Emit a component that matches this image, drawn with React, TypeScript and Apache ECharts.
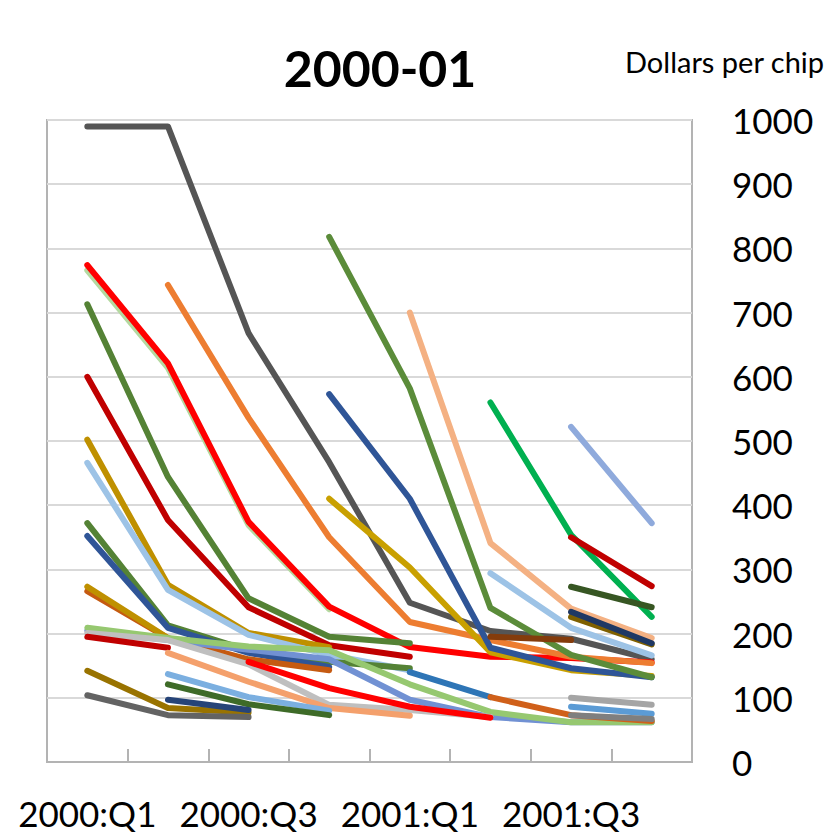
import React, { useEffect, useRef } from "react";
import * as echarts from "echarts";

const categories = ["2000:Q1", "2000:Q2", "2000:Q3", "2000:Q4", "2001:Q1", "2001:Q2", "2001:Q3", "2001:Q4"];
const yTicks = [0, 100, 200, 300, 400, 500, 600, 700, 800, 900, 1000];

const _ = null;
// vintages introduced in 2000:Q1
const v01 = [990, 990, 668, 467, 248, 204, 192, 160];
const v02 = [766, 614, 369, 238, _, _, _, _];
const v03 = [774, 621, 374, 242, 179, 164, 162, 155];
const v04 = [713, 444, 255, 195, 185, _, _, _];
const v05 = [600, 377, 241, 182, 164, _, _, _];
const v06 = [502, 276, 201, 179, _, _, _, _];
const v07 = [466, 268, 198, 167, 143, _, _, _];
const v08 = [372, 213, 174, 156, 146, _, _, _];
const v09 = [352, 209, 170, 148, _, _, _, _];
const v10 = [266, 193, 160, 143, _, _, _, _];
const v11 = [273, 193, _, _, _, _, _, _];
const v12 = [205, 190, 175, 160, 97, 70, 62, 62];
const v13 = [209, 193, 180, 174, 121, 78, 62, 62];
const v14 = [201, 190, 152, 89, 81, 70, _, _];
const v15 = [195, 178, _, _, _, _, _, _];
const v16 = [142, 84, 77, _, _, _, _, _];
const v17 = [104, 73, 70, _, _, _, _, _];
// introduced in 2000:Q2
const v18 = [_, 743, 536, 350, 218, 190, 164, 154];
const v19 = [_, 170, 125, 84, 72, _, _, _];
const v20 = [_, 137, 101, 80, _, _, _, _];
const v21 = [_, 121, 90, 73, _, _, _, _];
const v22 = [_, 97, 81, _, _, _, _, _];
// introduced in 2000:Q3
const v23 = [_, _, 156, 115, 86, 69, _, _];
// introduced in 2000:Q4
const v24 = [_, _, _, 410, 303, 171, 143, 134];
const v25 = [_, _, _, 573, 410, 178, 146, 132];
const v26 = [_, _, _, 818, 582, 240, 167, 132];
// introduced in 2001:Q1
const v27 = [_, _, _, _, 700, 341, 239, 193];
const v28 = [_, _, _, _, 140, 101, _, _];
// introduced in 2001:Q2
const v29 = [_, _, _, _, _, 560, 354, 226];
const v30 = [_, _, _, _, _, 294, 209, 166];
const v31 = [_, _, _, _, _, 101, 73, 64];
const v32 = [_, _, _, _, _, 195, 190, _];
// introduced in 2001:Q3
const v33 = [_, _, _, _, _, _, 522, 372];
const v34 = [_, _, _, _, _, _, 350, 274];
const v35 = [_, _, _, _, _, _, 273, 241];
const v36 = [_, _, _, _, _, _, 226, 183];
const v37 = [_, _, _, _, _, _, 234, 185];
const v38 = [_, _, _, _, _, _, 100, 89];
const v39 = [_, _, _, _, _, _, 86, 75];
const v40 = [_, _, _, _, _, _, 73, 67];

const seriesData = [
  v01, v02, v03, v04, v05, v06, v07, v08, v09, v10,
  v11, v12, v13, v14, v15, v16, v17, v18, v19, v20,
  v21, v22, v23, v24, v25, v26, v27, v28, v29, v30,
  v31, v32, v33, v34, v35, v36, v37, v38, v39, v40,
];

const seriesColors = [
  "#555555", "#B4D9A0", "#FF0000", "#548235", "#C00000", "#BF9000", "#9DC3E6", "#548235", "#2F5597", "#C55A11",
  "#BF9000", "#7191D3", "#96C870", "#BFBFBF", "#C00000", "#997300", "#636363", "#ED7D31", "#F4A06C", "#7BAFE0",
  "#3E6B28", "#264478", "#FF0000", "#C9A000", "#2F5597", "#5B8C3A", "#F4B183", "#2E75B6", "#00B050", "#9DC3E6",
  "#D0601A", "#843C0C", "#8FAADC", "#C00000", "#375623", "#7F6000", "#1F3864", "#A5A5A5", "#5B9BD5", "#7F7F7F",
];

const FONT = "Lato, 'Open Sans', sans-serif";

export default function App() {
  const ref = useRef<HTMLDivElement>(null);
  useEffect(() => {
    document.body.style.margin = "0";
    if (!ref.current) return;
    const chart = echarts.init(ref.current, null, { renderer: "svg" });
    chart.setOption({
      animation: false,
      backgroundColor: "#ffffff",
      grid: {
        left: 47,
        right: 134,
        top: 120,
        bottom: 74,
        containLabel: false,
        show: true,
        borderColor: "#b3b3b3",
        borderWidth: 2,
      },
      graphic: [
        {
          type: "text",
          x: 380,
          y: 68,
          style: {
            text: "2000-01",
            font: `bold 50px ${FONT}`,
            fill: "#000",
            textAlign: "center",
            textVerticalAlign: "middle",
          },
        },
        {
          type: "text",
          x: 625,
          y: 61,
          style: {
            text: "Dollars per chip",
            font: `29px ${FONT}`,
            fill: "#000",
            textAlign: "left",
            textVerticalAlign: "middle",
          },
        },
      ],
      xAxis: {
        type: "category",
        data: categories,
        boundaryGap: true,
        axisLine: { show: true, lineStyle: { color: "#b3b3b3", width: 2 } },
        axisTick: { show: true, inside: true, length: 13, interval: 0, lineStyle: { color: "#b3b3b3", width: 2 } },
        axisLabel: { interval: 1, margin: 33, fontSize: 35, lineHeight: 35, fontFamily: FONT, color: "#000" },
        splitLine: { show: false },
      },
      yAxis: {
        type: "value",
        position: "right",
        min: yTicks[0],
        max: yTicks[yTicks.length - 1],
        interval: 100,
        axisLine: { show: false },
        axisTick: { show: false },
        axisLabel: {
          margin: 40,
          fontSize: 35,
          fontFamily: FONT,
          color: "#000",
          align: "left",
          formatter: (v: number) => String(v),
        },
        splitLine: { show: true, lineStyle: { color: "#d9d9d9", width: 2 } },
      },
      series: seriesData.map((d, i) => ({
        type: "line",
        name: "s" + (i + 1),
        data: d,
        symbol: "none",
        showSymbol: false,
        connectNulls: false,
        color: seriesColors[i],
        lineStyle: { width: 6, color: seriesColors[i], cap: "round", join: "round" },
        emphasis: { disabled: true },
      })),
    });
    return () => chart.dispose();
  }, []);
  return <div ref={ref} style={{ width: 826, height: 836 }} />;
}
